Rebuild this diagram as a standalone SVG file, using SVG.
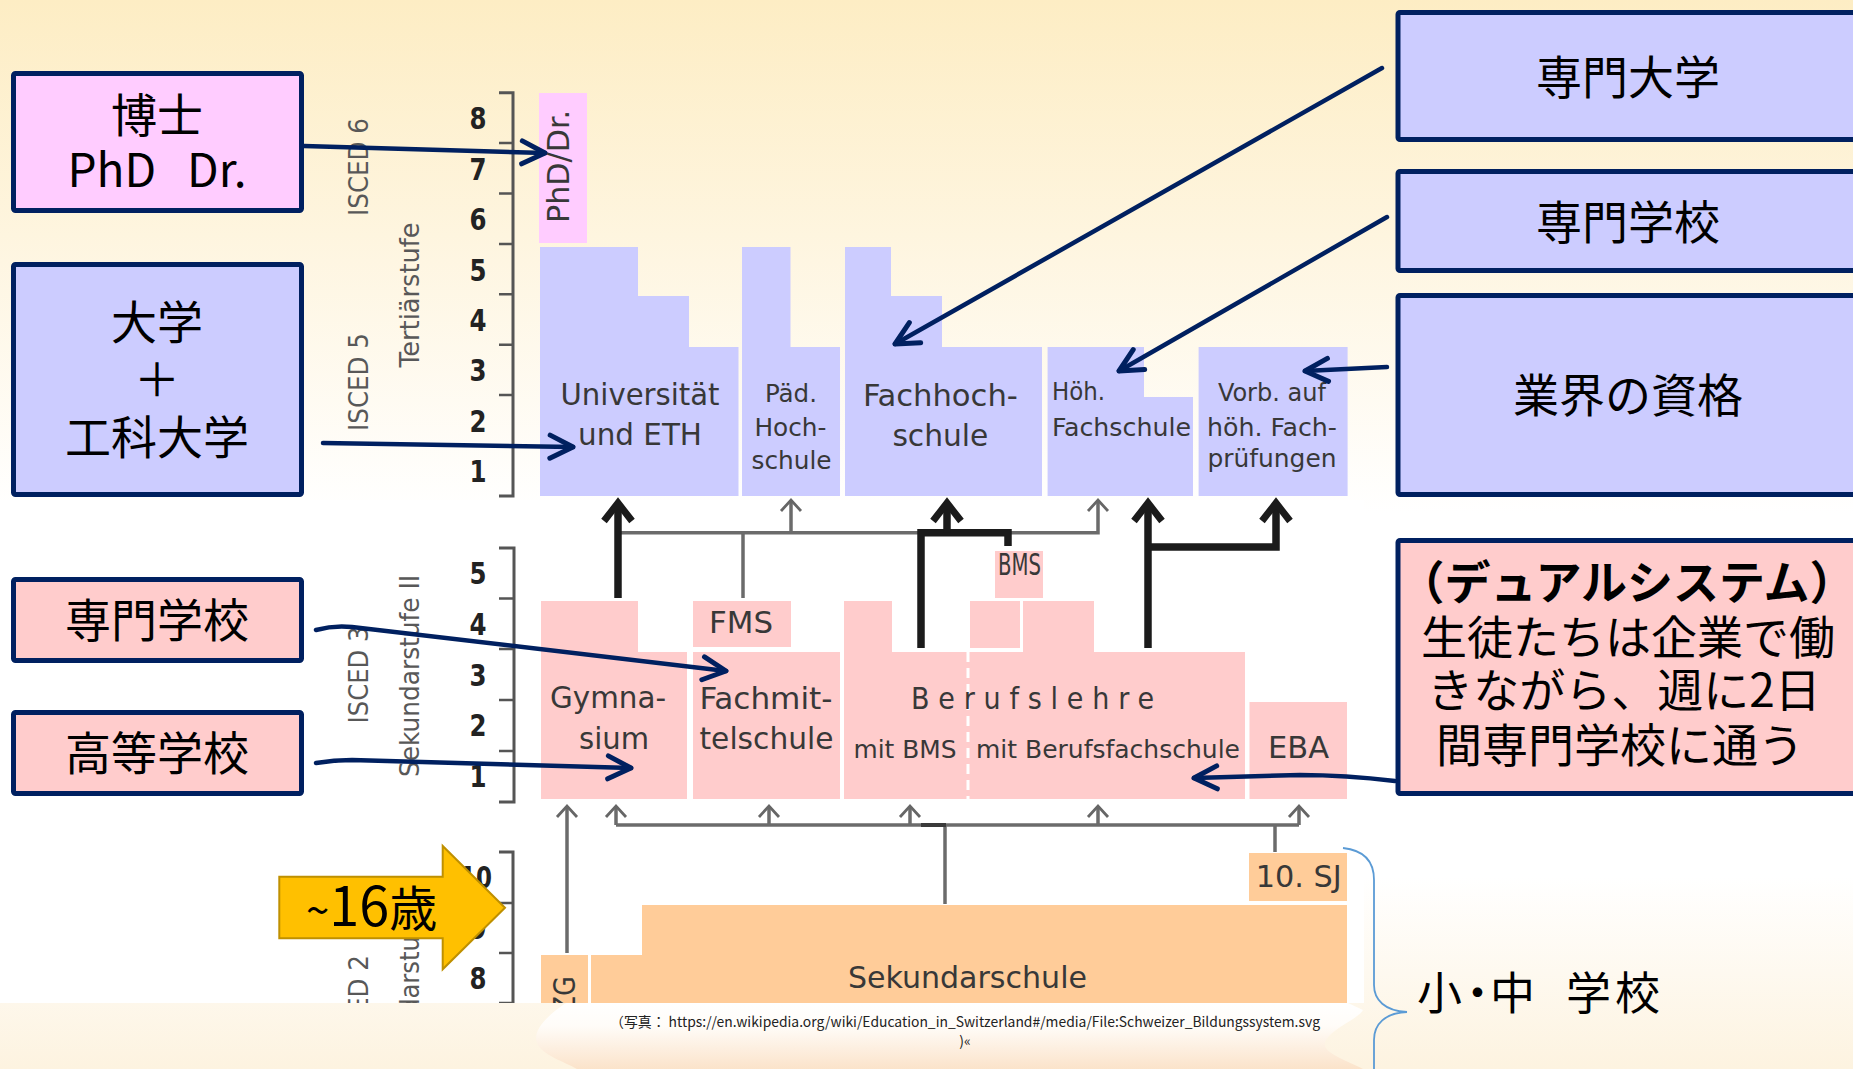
<svg xmlns="http://www.w3.org/2000/svg" width="1853" height="1069" viewBox="0 0 1853 1069">
<defs>
  <linearGradient id="bg" x1="0" y1="0" x2="0" y2="1">
    <stop offset="0" stop-color="#FDEDC4"/>
    <stop offset="0.22" stop-color="#FEF5DF"/>
    <stop offset="0.48" stop-color="#FFFFFF"/>
    <stop offset="0.82" stop-color="#FFFFFF"/>
    <stop offset="1" stop-color="#FDF3E0"/>
  </linearGradient>
  <linearGradient id="cloud" x1="0" y1="0" x2="0" y2="1">
    <stop offset="0" stop-color="#FFFFFF"/>
    <stop offset="0.35" stop-color="#FFFCF8"/>
    <stop offset="1" stop-color="#FBE3CA"/>
  </linearGradient>
  <clipPath id="cut"><rect x="0" y="0" width="1853" height="1003"/></clipPath>
  <marker id="mNavy" markerUnits="userSpaceOnUse" viewBox="0 0 30 30" markerWidth="30" markerHeight="30" refX="26" refY="15" orient="auto" overflow="visible">
    <path d="M3,3.5 L26,15 L3,26.5" fill="none" stroke="#002060" stroke-width="5" stroke-linecap="round" stroke-linejoin="round"/>
  </marker>
  <marker id="mBlack" markerUnits="userSpaceOnUse" viewBox="0 0 26 32" markerWidth="26" markerHeight="32" refX="20" refY="16" orient="auto" overflow="visible">
    <path d="M2,2 L20,16 L2,30" fill="none" stroke="#1b1b1b" stroke-width="7" stroke-linejoin="miter" stroke-miterlimit="4"/>
  </marker>
  <marker id="mGray" markerUnits="userSpaceOnUse" viewBox="0 0 18 24" markerWidth="18" markerHeight="24" refX="13" refY="12" orient="auto" overflow="visible">
    <path d="M2,2 L13,12 L2,22" fill="none" stroke="#666" stroke-width="2.8" stroke-linejoin="miter"/>
  </marker>
  <style>
    .box{stroke:#002060;stroke-width:5}
    .blue{fill:#CCCCFF}
    .pink{fill:#FFCCCC}
    .mag{fill:#FFCCFF}
    .orange{fill:#FFCC99}
    .jp{font-family:"Noto Sans CJK JP","Noto Sans CJK SC",sans-serif;fill:#000;font-size:46px;text-anchor:middle}
    .de{font-family:"DejaVu Sans Condensed","Liberation Sans Narrow","DejaVu Sans",sans-serif;fill:#383838;font-size:30px}
    .sm{font-size:25px}
    .num{font-family:"DejaVu Sans Condensed","Liberation Sans Narrow","DejaVu Sans",sans-serif;font-weight:bold;font-size:30px;fill:#222;text-anchor:middle}
    .lab{font-family:"DejaVu Sans Condensed","Liberation Sans Narrow","DejaVu Sans",sans-serif;font-size:26px;fill:#585858}
    .mid{text-anchor:middle}
    .end{text-anchor:end}
    .axis{fill:none;stroke:#555;stroke-width:3}
    .tick{stroke:#555;stroke-width:2.5}
    .conn{fill:none;stroke:#002060;stroke-width:4.5;stroke-linecap:round}
    .blk{fill:none;stroke:#1b1b1b;stroke-width:7.5}
    .gry{fill:none;stroke:#6b6b6b;stroke-width:3.5}
    .cite{font-family:"Noto Sans CJK JP","Noto Sans CJK SC",sans-serif;font-size:14px;fill:#222}
  </style>
</defs>

<g id="background">
  <rect x="0" y="0" width="1853" height="1069" fill="url(#bg)"/>
  <rect x="0" y="500" width="1364" height="503" fill="#FFFFFF"/>
</g>

<g id="diagram" clip-path="url(#cut)">
  <g id="axes">
    <path class="axis" d="M499,92.7 H513 V496 H499"/>
    <path class="tick" d="M499,143.1 H513 M499,193.5 H513 M499,243.9 H513 M499,294.3 H513 M499,344.7 H513 M499,395.1 H513 M499,445.5 H513"/>
    <path class="axis" d="M499,548 H514 V802 H499"/>
    <path class="tick" d="M499,598.5 H514 M499,649 H514 M499,700 H514 M499,751 H514"/>
    <path class="axis" d="M499,852 H513 V1010"/>
    <path class="tick" d="M499,903 H513 M499,953 H513 M499,1003 H513"/>
    <g class="num">
      <text x="478" y="129" textLength="17" lengthAdjust="spacingAndGlyphs">8</text>
      <text x="478" y="179.5" textLength="17" lengthAdjust="spacingAndGlyphs">7</text>
      <text x="478" y="230" textLength="17" lengthAdjust="spacingAndGlyphs">6</text>
      <text x="478" y="280.5" textLength="17" lengthAdjust="spacingAndGlyphs">5</text>
      <text x="478" y="331" textLength="17" lengthAdjust="spacingAndGlyphs">4</text>
      <text x="478" y="381" textLength="17" lengthAdjust="spacingAndGlyphs">3</text>
      <text x="478" y="431.5" textLength="17" lengthAdjust="spacingAndGlyphs">2</text>
      <text x="478" y="482" textLength="17" lengthAdjust="spacingAndGlyphs">1</text>
      <text x="478" y="584" textLength="17" lengthAdjust="spacingAndGlyphs">5</text>
      <text x="478" y="635" textLength="17" lengthAdjust="spacingAndGlyphs">4</text>
      <text x="478" y="686" textLength="17" lengthAdjust="spacingAndGlyphs">3</text>
      <text x="478" y="736" textLength="17" lengthAdjust="spacingAndGlyphs">2</text>
      <text x="478" y="787" textLength="17" lengthAdjust="spacingAndGlyphs">1</text>
      <text x="476" y="888" textLength="32" lengthAdjust="spacingAndGlyphs">10</text>
      <text x="478" y="939" textLength="17" lengthAdjust="spacingAndGlyphs">9</text>
      <text x="478" y="989" textLength="17" lengthAdjust="spacingAndGlyphs">8</text>
    </g>
    <g class="lab">
      <text class="mid" transform="translate(368,167) rotate(-90)" textLength="98" lengthAdjust="spacingAndGlyphs">ISCED 6</text>
      <text class="mid" transform="translate(368,382) rotate(-90)" textLength="98" lengthAdjust="spacingAndGlyphs">ISCED 5</text>
      <text class="mid" transform="translate(419,295) rotate(-90)" textLength="145" lengthAdjust="spacingAndGlyphs">Tertiärstufe</text>
      <text class="mid" transform="translate(368,675) rotate(-90)" textLength="97" lengthAdjust="spacingAndGlyphs">ISCED 3</text>
      <text class="mid" transform="translate(419,676) rotate(-90)" textLength="202" lengthAdjust="spacingAndGlyphs">Sekundarstufe II</text>
      <text class="end" transform="translate(368,955) rotate(-90)" textLength="98" lengthAdjust="spacingAndGlyphs">ISCED 2</text>
      <text class="end" transform="translate(419,898) rotate(-90)" textLength="190" lengthAdjust="spacingAndGlyphs">Sekundarstufe I</text>
    </g>
  </g>

  <g id="tertiary">
    <g id="phd-bar"><rect class="mag" x="539" y="93" width="48" height="150"/>
      <text class="de mid" font-size="22" transform="translate(569,166.5) rotate(-90)" textLength="113" lengthAdjust="spacingAndGlyphs">PhD/Dr.</text></g>
    <g id="universitaet"><path class="blue" d="M540,247 H638 V296 H689 V347 H738.5 V496 H540 Z"/>
      <text class="de mid" x="640" y="405" textLength="159" lengthAdjust="spacingAndGlyphs">Universität</text>
      <text class="de mid" x="640" y="445" textLength="124" lengthAdjust="spacingAndGlyphs">und ETH</text></g>
    <g id="paed"><path class="blue" d="M742,247 H790.5 V347 H840 V496 H742 Z"/>
      <text class="de sm mid" x="791" y="402" textLength="52" lengthAdjust="spacingAndGlyphs">Päd.</text>
      <text class="de sm mid" x="790.5" y="436" textLength="72" lengthAdjust="spacingAndGlyphs">Hoch-</text>
      <text class="de sm mid" x="791.5" y="469" textLength="80" lengthAdjust="spacingAndGlyphs">schule</text></g>
    <g id="fachhochschule"><path class="blue" d="M845,247 H891 V296 H942 V347 H1042 V496 H845 Z"/>
      <text class="de mid" x="940.4" y="406" textLength="155" lengthAdjust="spacingAndGlyphs">Fachhoch-</text>
      <text class="de mid" x="940.4" y="446" textLength="96" lengthAdjust="spacingAndGlyphs">schule</text></g>
    <g id="hoeh-fachschule"><path class="blue" d="M1047.6,347 H1144 V397 H1193 V496 H1047.6 Z"/>
      <text class="de sm" x="1052" y="400" textLength="53" lengthAdjust="spacingAndGlyphs">Höh.</text>
      <text class="de sm" x="1052" y="436" textLength="139" lengthAdjust="spacingAndGlyphs">Fachschule</text></g>
    <g id="vorb"><rect class="blue" x="1198.6" y="347" width="149" height="149"/>
      <text class="de sm mid" x="1272" y="401" textLength="108" lengthAdjust="spacingAndGlyphs">Vorb. auf</text>
      <text class="de sm mid" x="1272" y="436" textLength="130" lengthAdjust="spacingAndGlyphs">höh. Fach-</text>
      <text class="de sm mid" x="1272" y="467" textLength="129" lengthAdjust="spacingAndGlyphs">prüfungen</text></g>
  </g>

  <g id="secondary2">
    <g id="gymnasium"><path class="pink" d="M541,601 H638 V652 H687 V799 H541 Z"/>
      <text class="de mid" x="608" y="708" textLength="116" lengthAdjust="spacingAndGlyphs">Gymna-</text>
      <text class="de mid" x="614" y="749" textLength="70" lengthAdjust="spacingAndGlyphs">sium</text></g>
    <g id="fms"><rect class="pink" x="693" y="601" width="98" height="46"/>
      <text class="de mid" x="741" y="633" textLength="64" lengthAdjust="spacingAndGlyphs">FMS</text></g>
    <g id="fachmittelschule"><rect class="pink" x="693" y="652" width="147" height="147"/>
      <text class="de mid" x="766" y="709" textLength="133" lengthAdjust="spacingAndGlyphs">Fachmit-</text>
      <text class="de mid" x="766.5" y="749" textLength="134" lengthAdjust="spacingAndGlyphs">telschule</text></g>
    <g id="berufslehre">
      <path class="pink" d="M844,601 H892 V652 H1245 V799 H844 Z"/>
      <rect class="pink" x="970" y="601" width="50" height="47"/>
      <rect class="pink" x="1023" y="601" width="71" height="51"/>
      <rect class="pink" x="995" y="551" width="48" height="47"/>
      <path d="M968,652 V799" stroke="#FFFFFF" stroke-width="3" stroke-dasharray="10 6"/>
      <text class="de" font-size="18" x="1019.5" y="575" text-anchor="middle" textLength="43" lengthAdjust="spacingAndGlyphs">BMS</text>
      <text class="de" x="911" y="709" textLength="243" lengthAdjust="spacing">Berufslehre</text>
      <text class="de sm mid" x="905" y="758" textLength="103" lengthAdjust="spacingAndGlyphs">mit BMS</text>
      <text class="de sm mid" x="1108" y="758" textLength="264" lengthAdjust="spacingAndGlyphs">mit Berufsfachschule</text></g>
    <g id="eba"><rect class="pink" x="1249.5" y="702" width="97.5" height="97"/>
      <text class="de mid" font-size="31" x="1298.5" y="758" textLength="61" lengthAdjust="spacingAndGlyphs">EBA</text></g>
  </g>

  <g id="secondary1">
    <g id="lzg"><rect class="orange" x="541" y="955" width="47" height="60"/>
      <text class="de end" transform="translate(575,976) rotate(-90)" textLength="52" lengthAdjust="spacingAndGlyphs">LZG</text></g>
    <g id="sekundarschule"><path class="orange" d="M591,955 H642 V905 H1347 V1015 H591 Z"/>
      <text class="de mid" x="967.5" y="988" textLength="239" lengthAdjust="spacingAndGlyphs">Sekundarschule</text></g>
    <g id="sj10"><rect class="orange" x="1249" y="853" width="98" height="48"/>
      <text class="de mid" font-size="31" x="1298.7" y="887" textLength="86" lengthAdjust="spacingAndGlyphs">10. SJ</text></g>
  </g>

  <g id="diagram-connectors">
    <path class="gry" d="M618,532.7 H1098 V500" marker-end="url(#mGray)"/>
    <path class="gry" d="M791,532.7 V500" marker-end="url(#mGray)"/>
    <path class="gry" d="M743,532.7 V598"/>
    <path class="gry" stroke-width="3.2" d="M567,953 V806" marker-end="url(#mGray)"/>
    <path class="gry" stroke-width="3.2" d="M616,825 H1299"/>
    <path class="gry" stroke-width="3.2" d="M616,825 V806" marker-end="url(#mGray)"/>
    <path class="gry" stroke-width="3.2" d="M769,825 V806" marker-end="url(#mGray)"/>
    <path class="gry" stroke-width="3.2" d="M910,825 V806" marker-end="url(#mGray)"/>
    <path class="gry" stroke-width="3.2" d="M1098,825 V806" marker-end="url(#mGray)"/>
    <path class="gry" stroke-width="3.2" d="M1299,825 V806" marker-end="url(#mGray)"/>
    <path class="gry" stroke-width="3.2" d="M945,825 V904"/>
    <path class="gry" stroke-width="3.2" d="M1275,825 V852"/>
    <path d="M921,825 H946" stroke="#3a3a3a" stroke-width="4"/>
    <path class="blk" d="M618,598 V503" marker-end="url(#mBlack)"/>
    <path class="blk" d="M921,648 V532.7 H1008 V546"/>
    <path class="blk" d="M947,532.7 V503" marker-end="url(#mBlack)"/>
    <path class="blk" d="M1148,648 V503" marker-end="url(#mBlack)"/>
    <path class="blk" d="M1148,547 H1276 V503" marker-end="url(#mBlack)"/>
  </g>
</g>

<g id="citation">
  <path d="M566,1003 C548,1015 532,1030 537,1043 C542,1055 565,1062 577,1069 L1363,1069 C1345,1060 1322,1052 1325,1043 C1328,1030 1360,1018 1363,1010 L1348,1003 Z" fill="url(#cloud)"/>
  <text class="cite" x="610" y="1027" textLength="710" lengthAdjust="spacingAndGlyphs">（写真： https://en.wikipedia.org/wiki/Education_in_Switzerland#/media/File:Schweizer_Bildungssystem.svg</text>
  <text class="cite" x="965" y="1046" text-anchor="middle">)«</text>
</g>

<g id="node-hakase">
  <rect class="box mag" x="13.5" y="73.5" width="288" height="137" rx="2"/>
  <text class="jp" x="157" y="132">博士</text>
  <text class="jp" x="157" y="187" font-size="38" xml:space="preserve">PhD   Dr.</text>
</g>
<g id="node-daigaku">
  <rect class="box blue" x="13.5" y="264.5" width="288" height="230" rx="2"/>
  <text class="jp" x="157" y="339">大学</text>
  <text class="jp" x="157" y="396">＋</text>
  <text class="jp" x="157" y="454">工科大学</text>
</g>
<g id="node-senmon-left">
  <rect class="box pink" x="13.5" y="579.5" width="288" height="81" rx="2"/>
  <text class="jp" x="157" y="637">専門学校</text>
</g>
<g id="node-koto">
  <rect class="box pink" x="13.5" y="712.5" width="288" height="81" rx="2"/>
  <text class="jp" x="157" y="770">高等学校</text>
</g>
<g id="node-age16">
  <path d="M279.3,876.7 H442.7 V846 L505,907.7 L442.7,969.3 V938.3 H279.3 Z" fill="#FFC000" stroke="#BF9000" stroke-width="2"/>
  <text font-family="'Noto Sans CJK JP','Noto Sans CJK SC',sans-serif" fill="#000" x="306" y="926"><tspan font-size="42">~</tspan><tspan font-size="54">16</tspan><tspan font-size="48">歳</tspan></text>
</g>
<g id="node-senmon-daigaku">
  <rect class="box blue" x="1398" y="12.5" width="470" height="127" rx="2"/>
  <text class="jp" x="1628" y="94">専門大学</text>
</g>
<g id="node-senmon-gakko">
  <rect class="box blue" x="1398" y="171.5" width="470" height="99" rx="2"/>
  <text class="jp" x="1628" y="239">専門学校</text>
</g>
<g id="node-gyokai">
  <rect class="box blue" x="1398" y="295.5" width="470" height="199" rx="2"/>
  <text class="jp" x="1628" y="412">業界の資格</text>
</g>
<g id="node-dual">
  <rect class="box pink" x="1398" y="540.5" width="470" height="253" rx="2"/>
  <text class="jp" x="1627" y="599" font-size="45" font-weight="bold">（デュアルシステム）</text>
  <text class="jp" x="1628" y="654" font-size="45">生徒たちは企業で働</text>
  <text class="jp" x="1624" y="707" font-size="45">きながら、週に2日</text>
  <text class="jp" x="1620" y="762" font-size="45">間専門学校に通う</text>
</g>
<g id="node-shochu">
  <path d="M1343,848 C1362,850 1374,860 1374,880 L1374,985 C1374,1000 1385,1011 1407,1012 C1385,1013 1374,1024 1374,1040 L1374,1075" fill="none" stroke="#5B9BD5" stroke-width="1.8"/>
  <text font-family="'Noto Sans CJK JP','Noto Sans CJK SC',sans-serif" font-size="45" fill="#000" x="1417 1455 1490 1535 1566 1615" y="1010">小・中　学校</text>
</g>

<g id="connectors">
  <path class="conn" d="M304,146 L545,153" marker-end="url(#mNavy)"/>
  <path class="conn" d="M323,443 L573,447" marker-end="url(#mNavy)"/>
  <path class="conn" d="M1382,68 L895,344" marker-end="url(#mNavy)"/>
  <path class="conn" d="M1387,217 L1119,371" marker-end="url(#mNavy)"/>
  <path class="conn" d="M1387,367 L1305,371" marker-end="url(#mNavy)"/>
  <path class="conn" d="M1395,781 Q1345,775 1300,775 L1194,778" marker-end="url(#mNavy)"/>
  <path class="conn" d="M316,630 Q334,625 352,627 L726,671" marker-end="url(#mNavy)"/>
  <path class="conn" d="M316,763 Q334,760 352,760 L631,768" marker-end="url(#mNavy)"/>
</g>
</svg>
